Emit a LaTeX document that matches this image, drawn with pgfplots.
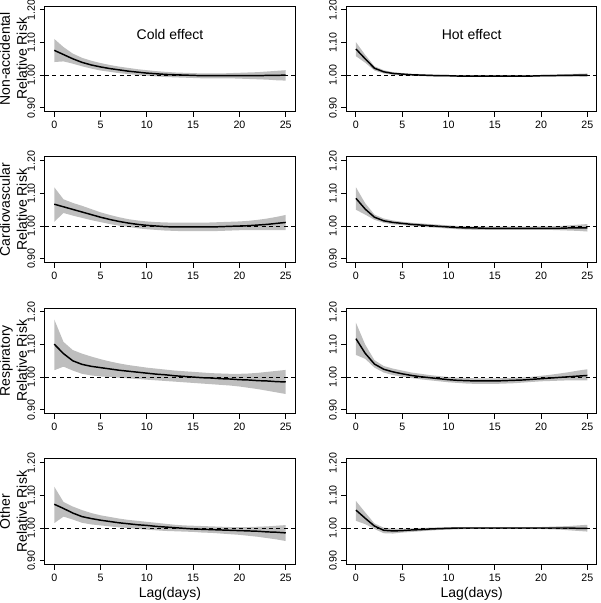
\documentclass[border=0pt]{standalone}
\usepackage{fontspec}
\setmainfont{Liberation Sans}
\usepackage{pgfplots}
\pgfplotsset{compat=1.18}
\usepackage{pgfplotstable}
\definecolor{band}{RGB}{190,190,190}

\pgfplotstableread{
lag est lo hi
0 1.076 1.040 1.111
1 1.063 1.042 1.086
2 1.050 1.035 1.066
3 1.039 1.027 1.053
4 1.031 1.020 1.044
5 1.025 1.014 1.037
6 1.020 1.010 1.031
7 1.016 1.006 1.026
8 1.012 1.003 1.022
9 1.009 1.000 1.018
10 1.006 0.998 1.015
11 1.004 0.996 1.012
12 1.002 0.994 1.010
13 1.001 0.993 1.008
14 1.000 0.992 1.007
15 0.999 0.991 1.006
16 0.998 0.990 1.005
17 0.998 0.990 1.005
18 0.998 0.990 1.005
19 0.998 0.990 1.006
20 0.998 0.989 1.007
21 0.998 0.988 1.008
22 0.998 0.987 1.009
23 0.999 0.986 1.011
24 0.999 0.984 1.013
25 1.000 0.983 1.015
}\tA

\pgfplotstableread{
lag est lo hi
0 1.080 1.058 1.101
1 1.050 1.038 1.062
2 1.021 1.014 1.027
3 1.010 1.005 1.015
4 1.005 1.001 1.009
5 1.003 0.999 1.006
6 1.001 0.998 1.004
7 1.000 0.997 1.003
8 0.999 0.996 1.002
9 0.998 0.995 1.001
10 0.998 0.995 1.000
11 0.997 0.995 0.999
12 0.997 0.995 0.999
13 0.997 0.995 0.999
14 0.997 0.995 0.999
15 0.997 0.995 0.999
16 0.997 0.995 0.999
17 0.997 0.995 0.999
18 0.997 0.995 0.999
19 0.997 0.995 0.999
20 0.998 0.995 1.000
21 0.998 0.995 1.001
22 0.999 0.995 1.002
23 0.999 0.995 1.003
24 1.000 0.995 1.004
25 1.000 0.994 1.005
}\tB

\pgfplotstableread{
lag est lo hi
0 1.067 1.013 1.119
1 1.059 1.040 1.082
2 1.051 1.032 1.071
3 1.043 1.025 1.062
4 1.035 1.018 1.052
5 1.027 1.012 1.042
6 1.020 1.006 1.034
7 1.014 1.001 1.027
8 1.009 0.997 1.021
9 1.005 0.993 1.017
10 1.002 0.990 1.014
11 1.000 0.988 1.012
12 0.998 0.986 1.011
13 0.997 0.985 1.010
14 0.997 0.984 1.010
15 0.997 0.984 1.010
16 0.997 0.984 1.010
17 0.997 0.984 1.011
18 0.998 0.985 1.012
19 0.999 0.986 1.013
20 1.000 0.987 1.014
21 1.001 0.987 1.016
22 1.003 0.987 1.019
23 1.005 0.987 1.023
24 1.008 0.987 1.028
25 1.011 0.987 1.034
}\tC

\pgfplotstableread{
lag est lo hi
0 1.085 1.050 1.119
1 1.052 1.035 1.070
2 1.027 1.019 1.035
3 1.016 1.010 1.023
4 1.011 1.005 1.017
5 1.008 1.003 1.013
6 1.005 1.000 1.010
7 1.003 0.998 1.008
8 1.001 0.996 1.006
9 0.999 0.994 1.004
10 0.997 0.992 1.002
11 0.995 0.990 1.000
12 0.994 0.989 0.999
13 0.994 0.988 0.998
14 0.993 0.988 0.998
15 0.993 0.988 0.998
16 0.993 0.988 0.998
17 0.993 0.988 0.998
18 0.993 0.988 0.998
19 0.993 0.988 0.998
20 0.993 0.988 0.999
21 0.993 0.988 0.999
22 0.993 0.987 1.000
23 0.994 0.986 1.002
24 0.994 0.985 1.004
25 0.994 0.983 1.006
}\tD

\pgfplotstableread{
lag est lo hi
0 1.101 1.021 1.177
1 1.072 1.032 1.108
2 1.050 1.020 1.083
3 1.039 1.010 1.072
4 1.033 1.005 1.063
5 1.029 1.002 1.055
6 1.025 1.000 1.048
7 1.021 0.998 1.042
8 1.018 0.996 1.037
9 1.015 0.994 1.033
10 1.012 0.992 1.029
11 1.009 0.990 1.026
12 1.007 0.988 1.023
13 1.004 0.986 1.020
14 1.002 0.984 1.018
15 1.000 0.982 1.016
16 0.998 0.980 1.014
17 0.997 0.978 1.012
18 0.995 0.976 1.011
19 0.994 0.974 1.010
20 0.992 0.971 1.010
21 0.991 0.967 1.011
22 0.989 0.963 1.013
23 0.988 0.958 1.016
24 0.986 0.953 1.019
25 0.985 0.948 1.022
}\tE

\pgfplotstableread{
lag est lo hi
0 1.118 1.068 1.167
1 1.073 1.056 1.100
2 1.040 1.029 1.052
3 1.024 1.014 1.034
4 1.016 1.006 1.026
5 1.010 1.001 1.020
6 1.005 0.997 1.014
7 1.001 0.993 1.010
8 0.998 0.990 1.006
9 0.995 0.987 1.003
10 0.992 0.984 1.000
11 0.990 0.982 0.998
12 0.989 0.980 0.997
13 0.988 0.979 0.996
14 0.988 0.979 0.996
15 0.988 0.979 0.996
16 0.989 0.980 0.997
17 0.990 0.981 0.998
18 0.991 0.983 0.999
19 0.993 0.985 1.001
20 0.995 0.987 1.004
21 0.997 0.988 1.007
22 0.999 0.989 1.011
23 1.001 0.990 1.015
24 1.003 0.990 1.020
25 1.005 0.990 1.024
}\tF

\pgfplotstableread{
lag est lo hi
0 1.073 1.015 1.127
1 1.060 1.035 1.080
2 1.046 1.026 1.066
3 1.035 1.016 1.055
4 1.029 1.011 1.046
5 1.024 1.008 1.039
6 1.020 1.005 1.034
7 1.016 1.002 1.029
8 1.013 1.000 1.025
9 1.010 0.997 1.022
10 1.008 0.995 1.019
11 1.005 0.993 1.016
12 1.003 0.991 1.013
13 1.001 0.990 1.010
14 0.999 0.989 1.008
15 0.997 0.988 1.007
16 0.996 0.986 1.006
17 0.995 0.985 1.005
18 0.994 0.983 1.004
19 0.993 0.981 1.003
20 0.992 0.979 1.003
21 0.991 0.976 1.003
22 0.990 0.973 1.004
23 0.988 0.969 1.005
24 0.987 0.965 1.007
25 0.985 0.960 1.009
}\tG

\pgfplotstableread{
lag est lo hi
0 1.055 1.022 1.083
1 1.030 1.012 1.048
2 1.006 0.997 1.014
3 0.993 0.984 1.001
4 0.991 0.983 0.998
5 0.992 0.986 0.998
6 0.994 0.988 0.999
7 0.995 0.990 1.000
8 0.997 0.992 1.001
9 0.998 0.994 1.002
10 0.999 0.995 1.003
11 1.000 0.996 1.003
12 1.000 0.997 1.003
13 1.000 0.997 1.003
14 1.000 0.997 1.003
15 1.000 0.997 1.003
16 1.000 0.997 1.003
17 1.000 0.997 1.003
18 1.000 0.997 1.003
19 1.000 0.997 1.003
20 1.000 0.997 1.003
21 1.000 0.996 1.004
22 1.000 0.995 1.005
23 1.000 0.993 1.006
24 0.999 0.991 1.008
25 0.999 0.989 1.010
}\tH

\newcommand{\twoline}[2]{\fontsize{10.5}{12.6}\selectfont\begin{tabular}{@{}c@{}}#1\\#2\end{tabular}}

\pgfplotsset{rrpanel/.style={
  width=187.5pt, height=79.1pt, scale only axis,
  xmin=-1, xmax=26, ymin=0.888, ymax=1.212,
  xtick={0,5,10,15,20,25}, xticklabels={0,5,10,15,20,25},
  ytick={0.9,1.0,1.1,1.2}, yticklabels={0.90,1.00,1.10,1.20},
  tick pos=left, tick align=outside, major tick length=3.9pt,
  tick style={black, line width=0.75pt},
  axis line style={line width=0.75pt},
  ticklabel style={font=\fontsize{8}{9}\selectfont},
  yticklabel style={rotate=90, anchor=south},
  ylabel style={font=\fontsize{10.5}{12.6}\selectfont,
    at={(axis description cs:-0.12,0.5)}, anchor=center},
  xlabel style={font=\fontsize{10.5}{12.6}\selectfont,
    at={(axis description cs:0.5,-0.28)}, anchor=center},
}}

% #1 x, #2 y, #3 table, #4 ylabel, #5 xlabel, #6 title
\newcommand{\panel}[6]{%
\begin{axis}[rrpanel, at={(#1,#2)}, anchor=south west, ylabel={#4}, xlabel={#5}]
\addplot[draw=none, stack plots=y, forget plot] table[x=lag, y=lo] {#3};
\addplot[draw=none, fill=band, stack plots=y, forget plot] table[x=lag, y expr=\thisrow{hi}-\thisrow{lo}] {#3} \closedcycle;
\addplot[stack plots=false, black, line width=0.75pt, dash pattern=on 3pt off 2.6pt] coordinates {(-1,1) (26,1)};
\addplot[stack plots=false, black, line width=1.1pt] table[x=lag, y=est] {#3};
\node[font=\fontsize{10.5}{12.6}\selectfont] at (axis cs:12.5,1.126) {#6};
\end{axis}}

\begin{document}
\begin{tikzpicture}
\panel{33.75pt}{368.6pt}{\tA}{\twoline{Non-accidental}{Relative Risk}}{}{Cold effect}
\panel{260pt}{368.6pt}{\tB}{}{}{Hot effect}
\panel{33.75pt}{255.4pt}{\tC}{\twoline{Cardiovascular}{Relative Risk}}{}{}
\panel{260pt}{255.4pt}{\tD}{}{}{}
\panel{33.75pt}{142.1pt}{\tE}{\twoline{Respiratory}{Relative Risk}}{}{}
\panel{260pt}{142.1pt}{\tF}{}{}{}
\panel{33.75pt}{28.9pt}{\tG}{\twoline{Other}{Relative Risk}}{Lag(days)}{}
\panel{260pt}{28.9pt}{\tH}{}{Lag(days)}{}
\pgfresetboundingbox
\path[use as bounding box] (0,0) rectangle (450pt,452.25pt);
\end{tikzpicture}
\end{document}
